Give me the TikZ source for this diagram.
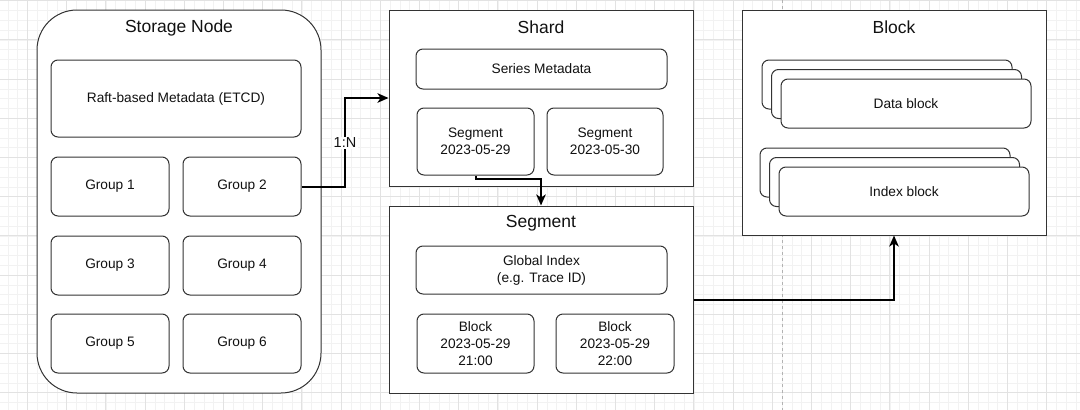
\documentclass[tikz,border=0pt]{standalone}
\usepackage{fontspec}
\setmainfont{Liberation Sans}
\usetikzlibrary{arrows.meta}
\definecolor{boxline}{HTML}{333333}
\definecolor{gridminor}{HTML}{F2F2F2}
\definecolor{gridmajor}{HTML}{E2E2E2}
\definecolor{inktext}{HTML}{111111}

\begin{document}
\begin{tikzpicture}[x=1pt,y=-1pt,>={Stealth[length=11pt,width=9.5pt,inset=3pt]},
  font=\fontsize{13.7}{17}\selectfont,text=inktext,
  box/.style={draw=boxline,fill=white,line width=1pt,rounded corners=7pt,inner sep=0pt,align=center},
  frame/.style={draw=boxline,fill=white,line width=1pt,inner sep=0pt},
  title/.style={inner sep=0pt,font=\fontsize{17.5}{20}\selectfont},
  conn/.style={->,line width=2pt,black}]
\useasboundingbox (0,0) rectangle (1080,410);
\fill[white] (0,0) rectangle (1080,410);
% background grid
\foreach \i in {0,...,109} \draw[gridminor,line width=0.6pt] ({7.8+9.8*\i},0) -- ({7.8+9.8*\i},410);
\foreach \i in {0,...,41} \draw[gridminor,line width=0.6pt] (0,{0.6+9.8*\i}) -- (1080,{0.6+9.8*\i});
\foreach \i in {0,...,26} \draw[gridmajor,line width=0.7pt] ({27.4+39.2*\i},0) -- ({27.4+39.2*\i},410);
\foreach \i in {0,...,10} \draw[gridmajor,line width=0.7pt] (0,{0.6+39.2*\i}) -- (1080,{0.6+39.2*\i});
\draw[gray!60,dashed,line width=0.5pt] (782,0) -- (782,410);

% storage node
\node[frame,rounded corners=40pt,minimum width=284pt,minimum height=383pt] (storage) at (179,201.5) {};
\node[title] (storagetitle) at (179,28) {Storage Node};
\node[box,minimum width=250pt,minimum height=77pt] (raft) at (176,98.5) {Raft-based Metadata (ETCD)};
\node[box,minimum width=118pt,minimum height=59pt] (g1) at (110,186.5) {Group 1};
\node[box,minimum width=118pt,minimum height=59pt] (g2) at (242,186.5) {Group 2};
\node[box,minimum width=118pt,minimum height=59pt] (g3) at (110,265.5) {Group 3};
\node[box,minimum width=118pt,minimum height=59pt] (g4) at (242,265.5) {Group 4};
\node[box,minimum width=118pt,minimum height=59pt] (g5) at (110,343.5) {Group 5};
\node[box,minimum width=118pt,minimum height=59pt] (g6) at (242,343.5) {Group 6};

% shard
\node[frame,minimum width=304pt,minimum height=176pt] (shard) at (541,98) {};
\node[title] (shardtitle) at (541,27) {Shard};
\node[box,minimum width=251pt,minimum height=40pt] (series) at (541.5,69) {Series Metadata};
\node[box,minimum width=117pt,minimum height=67pt] (seg29) at (475.5,141.5) {Segment\\2023-05-29};
\node[box,minimum width=116pt,minimum height=67pt] (seg30) at (605,141.5) {Segment\\2023-05-30};

% segment
\node[frame,minimum width=304pt,minimum height=187pt] (segment) at (541,299.5) {};
\node[title] (segmenttitle) at (541,223) {Segment};
\node[box,minimum width=251pt,minimum height=48pt] (gindex) at (541.5,270) {Global Index\\(e.g. Trace ID)};
\node[box,minimum width=117pt,minimum height=59pt] (blk21) at (475.5,343.5) {Block\\2023-05-29\\21:00};
\node[box,minimum width=118pt,minimum height=59pt] (blk22) at (615,343.5) {Block\\2023-05-29\\22:00};

% block
\node[frame,minimum width=304pt,minimum height=225pt] (block) at (894,122.5) {};
\node[title] (blocktitle) at (894,27) {Block};
\node[box,minimum width=250pt,minimum height=49pt] (data3) at (887,84.5) {};
\node[box,minimum width=250pt,minimum height=49pt] (data2) at (896.5,94) {};
\node[box,minimum width=250pt,minimum height=49pt] (data) at (906,103.5) {Data block};
\node[box,minimum width=250pt,minimum height=49pt] (index3) at (885,172.5) {};
\node[box,minimum width=250pt,minimum height=49pt] (index2) at (894.5,182) {};
\node[box,minimum width=250pt,minimum height=49pt] (index) at (904,191.5) {Index block};

% connectors
\coordinate (jn) at (345,0);
\draw[conn] (g2.east) -| (jn |- shard.west) -- (shard.west);
\node[fill=white,inner sep=1.5pt,font=\fontsize{14.5}{17}\selectfont] (ratio) at (345,143) {1:N};
\draw[conn] (seg29.south) -- ++(0,3) -| (segment.north);
\draw[conn] (segment.east) -| (block.south);
\end{tikzpicture}
\end{document}
